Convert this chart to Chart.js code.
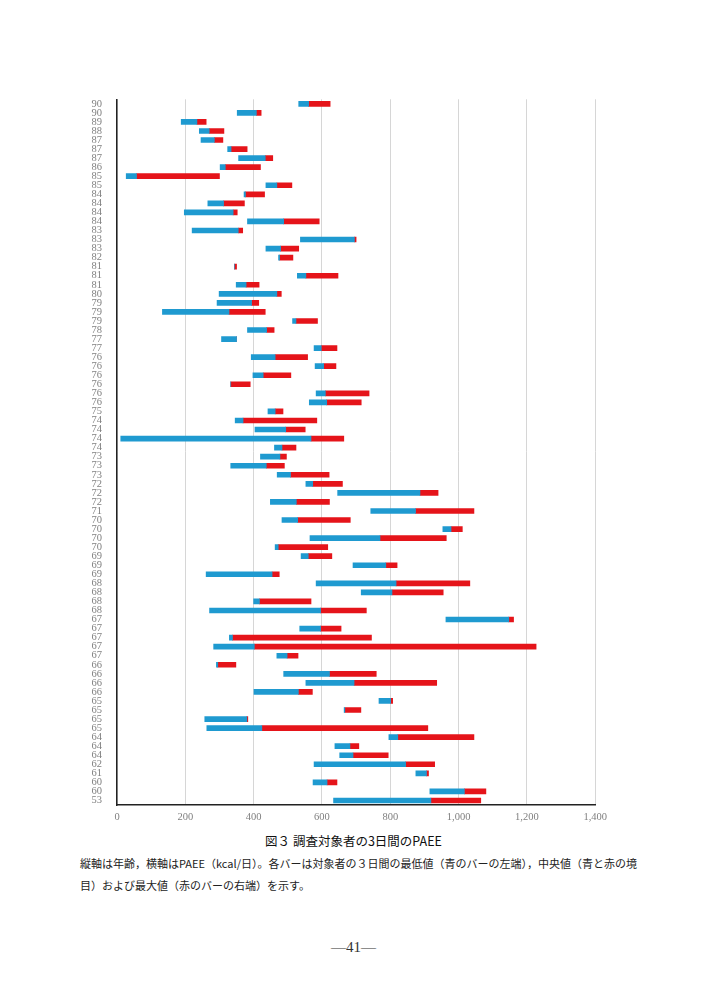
<!DOCTYPE html>
<html>
<head>
<meta charset="utf-8">
<script src="https://cdn.jsdelivr.net/npm/chart.js@4.4.1/dist/chart.umd.min.js"></script>
<style>
  body { margin: 0; background: #fff; width: 707px; height: 1000px; position: relative; overflow: hidden; }
  #wrap { position: absolute; left: 80px; top: 86px; width: 533px; height: 739px; }
  .title { position: absolute; top: 831px; left: 0; width: 707px; text-align: center;
           font-family: 'Noto Sans CJK JP', sans-serif; font-size: 12.5px; color: #111; }
  .note { position: absolute; top: 852px; left: 80px; white-space: nowrap;
          font-family: 'Noto Sans CJK JP', serif; font-size: 11px; line-height: 22px; color: #222; }
  .page { position: absolute; top: 939px; left: 0; width: 707px; text-align: center;
          font-family: 'Liberation Serif', serif; font-size: 15px; color: #333; }
</style>
</head>
<body>
<div id="wrap"><canvas id="paee"></canvas></div>
<div class="title">図３ 調査対象者の3日間のPAEE</div>
<div class="note">縦軸は年齢，横軸はPAEE（kcal/日）。各バーは対象者の３日間の最低値（青のバーの左端），中央値（青と赤の境<br>目）および最大値（赤のバーの右端）を示す。</div>
<div class="page">—41—</div>
<script>
// 年齢（上から順）
const ages = [90,90,89,88,87,87,87,86,85,85,84,84,84,84,83,83,83,82,81,81,81,80,79,79,79,78,77,77,
  76,76,76,76,76,76,75,74,74,74,74,73,73,73,72,72,72,71,70,70,70,70,69,69,69,68,68,68,68,
  67,67,67,67,67,66,66,66,66,65,65,65,65,64,64,64,62,61,60,60,53];

// PAEE 最低値・中央値・最大値 (kcal/日)
const minVals = [532,352,188,241,246,324,356,302,27,436,372,266,197,382,220,537,436,473,344,528,349,299,293,133,514,382,306,577,
  393,580,398,333,583,563,442,346,404,11,461,420,333,469,553,646,449,743,483,954,565,463,539,691,261,583,715,400,271,
  963,535,329,283,468,291,488,553,401,767,665,257,263,796,638,652,577,875,574,916,634];
const medVals = [561,408,234,270,285,334,434,317,57,468,376,312,340,488,355,695,479,476,344,553,378,468,394,328,524,438,350,598,
  463,605,428,333,610,614,463,369,494,568,483,477,437,508,573,887,525,874,529,978,770,472,560,787,454,817,805,417,596,
  1147,596,338,402,498,295,622,694,531,801,667,380,424,822,682,691,845,906,615,1017,919];
const maxVals = [624,422,261,313,310,381,456,420,300,512,432,373,352,592,368,700,532,515,350,647,416,481,415,434,587,460,350,644,
  558,641,509,390,738,715,486,585,551,664,524,496,490,621,660,940,622,1045,683,1011,964,617,629,820,475,1033,955,568,730,
  1161,656,745,1227,530,348,759,936,572,807,714,383,910,1045,708,794,930,912,644,1080,1065];

const xTicks = [0,200,400,600,800,1000,1200,1400];

const lowBars = ages.map((_, i) => [minVals[i], medVals[i]]);
const highBars = ages.map((_, i) => [medVals[i], maxVals[i]]);

const tickFont = { family: "'Liberation Serif', serif", size: 10.5 };

new Chart(document.getElementById('paee'), {
  type: 'bar',
  data: {
    labels: ages.map(String),
    datasets: [
      { data: lowBars, backgroundColor: '#1f9ad0', grouped: false, barThickness: 5, borderWidth: 0 },
      { data: highBars, backgroundColor: '#e5141a', grouped: false, barThickness: 5, borderWidth: 0 }
    ]
  },
  options: {
    indexAxis: 'y',
    responsive: true,
    maintainAspectRatio: false,
    animation: false,
    layout: { padding: { top: 5, right: 15 } },
    plugins: { legend: { display: false }, tooltip: { enabled: false } },
    scales: {
      x: {
        min: 0, max: 1400,
        afterBuildTicks: s => { s.ticks = xTicks.map(v => ({ value: v })); },
        afterFit: s => { s.height = 20; },
        grid: { color: '#d6d6d6', lineWidth: 1, drawTicks: false },
        border: { color: '#222', width: 1.5 },
        ticks: { color: '#808080', font: tickFont, padding: 6,
                 callback: v => v.toLocaleString('en-US') }
      },
      y: {
        afterFit: s => { s.width = 37; },
        grid: { display: false },
        border: { color: '#222', width: 1.5 },
        ticks: { color: '#808080', font: tickFont, autoSkip: false, padding: 7 }
      }
    }
  }
});
</script>
</body>
</html>
